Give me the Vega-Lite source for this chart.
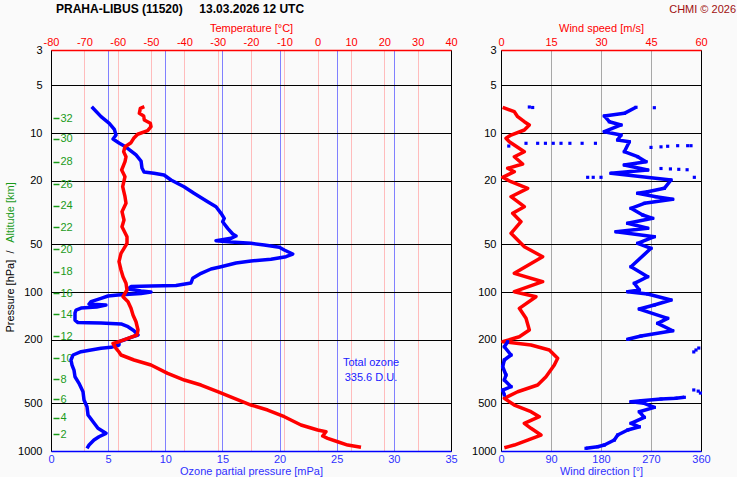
{
"$schema": "https://vega.github.io/schema/vega-lite/v6.json",
"background": "#fafafa",
"padding": {"left": 3, "top": 2, "right": 0, "bottom": 0},
"bounds": "flush",
"spacing": 50,
"config": {
  "font": "Liberation Sans",
  "view": {"stroke": "#000000", "strokeWidth": 1},
  "axis": {"ticks": false, "labelFontSize": 11, "titleFontSize": 11, "titleFontWeight": "normal", "labelFont": "Liberation Sans", "titleFont": "Liberation Sans", "labelOverlap": false, "labelBound": false, "labelFlush": false},
  "title": {"font": "Liberation Sans"}
},
"datasets": {
  "oz": [{"p":6.82,"o":3.56},{"p":7.88,"o":4.38},{"p":8.68,"o":5.10},{"p":9.47,"o":5.54},{"p":10.28,"o":5.69},{"p":10.89,"o":5.43},{"p":11.54,"o":5.95},{"p":12.23,"o":6.56},{"p":13.73,"o":7.44},{"p":14.98,"o":7.88},{"p":16.58,"o":7.96},{"p":17.57,"o":8.14},{"p":17.9,"o":9.01},{"p":18.35,"o":9.89},{"p":19.73,"o":10.5},{"p":21.74,"o":11.64},{"p":23.91,"o":12.51},{"p":27.01,"o":13.71},{"p":29.05,"o":14.44},{"p":31.96,"o":14.88},{"p":34.37,"o":15.16},{"p":36.09,"o":15.02},{"p":39.72,"o":15.46},{"p":43.13,"o":15.9},{"p":44.4,"o":16.19},{"p":45.91,"o":15.75},{"p":47.53,"o":14.44},{"p":48.44,"o":15.75},{"p":49.36,"o":17.5},{"p":50.58,"o":18.66},{"p":52.3,"o":19.98},{"p":54.39,"o":20.41},{"p":57.64,"o":21.15},{"p":59.94,"o":20.56},{"p":62.23,"o":19.25},{"p":63.78,"o":17.5},{"p":65.66,"o":16.19},{"p":69.27,"o":14.88},{"p":71.61,"o":14.0},{"p":76.22,"o":13.13},{"p":81.93,"o":12.4},{"p":87.73,"o":12.25},{"p":90.98,"o":10.94},{"p":91.6,"o":8.75},{"p":92.3,"o":7.0},{"p":95.7,"o":6.74},{"p":98.5,"o":7.88},{"p":99.96,"o":8.75},{"p":102.1,"o":7.88},{"p":104.4,"o":5.86},{"p":105.9,"o":4.99},{"p":109.5,"o":4.38},{"p":115.0,"o":3.5},{"p":118.9,"o":3.33},{"p":120.7,"o":4.81},{"p":124.2,"o":3.99},{"p":126.0,"o":2.63},{"p":129.7,"o":2.19},{"p":135.5,"o":2.1},{"p":150.0,"o":2.1},{"p":155.6,"o":2.36},{"p":156.0,"o":3.24},{"p":156.6,"o":4.38},{"p":157.8,"o":5.25},{"p":158.6,"o":6.13},{"p":165.2,"o":6.74},{"p":175.1,"o":7.26},{"p":186.3,"o":7.61},{"p":192.6,"o":7.0},{"p":200.3,"o":6.39},{"p":205.3,"o":5.95},{"p":215.4,"o":5.95},{"p":222.7,"o":5.25},{"p":225.9,"o":4.38},{"p":231.6,"o":3.5},{"p":237.4,"o":2.63},{"p":248.9,"o":1.93},{"p":267.6,"o":1.75},{"p":287.8,"o":1.84},{"p":309.4,"o":2.01},{"p":341.0,"o":2.1},{"p":375.1,"o":2.45},{"p":423.7,"o":2.8},{"p":477.9,"o":2.89},{"p":526.6,"o":3.15},{"p":593.9,"o":3.24},{"p":654.5,"o":3.68},{"p":720.0,"o":4.11},{"p":774.3,"o":4.81},{"p":813.4,"o":4.2},{"p":853.2,"o":3.76},{"p":917.3,"o":3.33},{"p":962.0,"o":3.15}],
  "temp": [{"p":6.82,"t":-52.0},{"p":6.98,"t":-53.2},{"p":7.51,"t":-53.5},{"p":7.8,"t":-52.2},{"p":8.27,"t":-52.0},{"p":8.68,"t":-50.2},{"p":9.11,"t":-50.0},{"p":9.66,"t":-51.0},{"p":10.17,"t":-54.0},{"p":10.78,"t":-55.2},{"p":11.49,"t":-56.0},{"p":12.17,"t":-57.8},{"p":13.09,"t":-58.2},{"p":14.08,"t":-57.5},{"p":15.13,"t":-57.8},{"p":17.07,"t":-58.8},{"p":18.81,"t":-57.8},{"p":21.74,"t":-58.5},{"p":25.13,"t":-57.8},{"p":27.65,"t":-57.5},{"p":31.22,"t":-58.7},{"p":35.22,"t":-58.1},{"p":38.8,"t":-58.7},{"p":44.85,"t":-57.2},{"p":49.36,"t":-57.2},{"p":57.06,"t":-59.0},{"p":64.43,"t":-59.6},{"p":72.67,"t":-59.0},{"p":80.05,"t":-58.4},{"p":88.1,"t":-57.5},{"p":97.1,"t":-57.2},{"p":106.98,"t":-58.4},{"p":115.0,"t":-56.9},{"p":126.6,"t":-56.0},{"p":139.5,"t":-55.4},{"p":153.7,"t":-54.5},{"p":173.3,"t":-53.9},{"p":186.3,"t":-54.2},{"p":195.5,"t":-56.9},{"p":205.3,"t":-59.6},{"p":210.2,"t":-61.4},{"p":225.9,"t":-60.5},{"p":238.4,"t":-59.6},{"p":248.9,"t":-59.0},{"p":267.6,"t":-55.1},{"p":287.8,"t":-50.0},{"p":324.6,"t":-45.0},{"p":357.6,"t":-40.0},{"p":384.5,"t":-35.0},{"p":423.7,"t":-30.0},{"p":466.3,"t":-25.0},{"p":513.8,"t":-20.0},{"p":552.4,"t":-15.0},{"p":608.5,"t":-10.0},{"p":686.5,"t":-5.0},{"p":738.1,"t":0.0},{"p":756.4,"t":2.5},{"p":805.1,"t":1.5},{"p":832.4,"t":3.0},{"p":874.5,"t":6.0},{"p":917.3,"t":9.0},{"p":948.2,"t":13.0}],
  "ws": [{"p":6.88,"s":0.5},{"p":7.33,"s":4.0},{"p":7.88,"s":5.0},{"p":8.48,"s":7.0},{"p":8.89,"s":8.5},{"p":9.56,"s":7.0},{"p":10.28,"s":3.0},{"p":10.78,"s":1.5},{"p":11.33,"s":2.5},{"p":13.09,"s":7.0},{"p":14.08,"s":4.0},{"p":15.64,"s":6.5},{"p":16.65,"s":2.0},{"p":17.49,"s":4.0},{"p":18.97,"s":0.5},{"p":20.22,"s":3.0},{"p":22.25,"s":8.0},{"p":25.13,"s":3.0},{"p":29.05,"s":7.0},{"p":31.96,"s":3.5},{"p":36.09,"s":6.0},{"p":42.69,"s":3.0},{"p":51.84,"s":7.0},{"p":59.94,"s":12.5},{"p":76.22,"s":4.0},{"p":86.1,"s":12.5},{"p":99.5,"s":4.0},{"p":107.0,"s":10.5},{"p":126.6,"s":5.5},{"p":146.3,"s":7.5},{"p":173.3,"s":8.5},{"p":191.0,"s":5.5},{"p":205.3,"s":0.5},{"p":215.4,"s":9.0},{"p":231.5,"s":14.5},{"p":261.2,"s":17.0},{"p":287.8,"s":16.0},{"p":341.0,"s":13.5},{"p":384.5,"s":11.0},{"p":423.7,"s":5.0},{"p":466.3,"s":1.0},{"p":513.8,"s":4.0},{"p":566.2,"s":9.0},{"p":608.5,"s":11.5},{"p":669.9,"s":7.0},{"p":720.0,"s":9.0},{"p":793.5,"s":12.0},{"p":853.2,"s":8.0},{"p":917.3,"s":4.0},{"p":953.6,"s":1.0}],
  "wd": [{"p":6.88,"d":243,"g":"a"},{"p":7.51,"d":222,"g":"a"},{"p":7.8,"d":186,"g":"a"},{"p":8.48,"d":195,"g":"a"},{"p":8.89,"d":216,"g":"a"},{"p":9.8,"d":186,"g":"a"},{"p":10.28,"d":216,"g":"a"},{"p":11.05,"d":210,"g":"a"},{"p":11.33,"d":231,"g":"a"},{"p":13.09,"d":222,"g":"a"},{"p":14.08,"d":246,"g":"a"},{"p":15.13,"d":261,"g":"a"},{"p":15.87,"d":222,"g":"a"},{"p":17.07,"d":264,"g":"a"},{"p":17.9,"d":198,"g":"a"},{"p":19.73,"d":306,"g":"a"},{"p":22.25,"d":294,"g":"a"},{"p":23.37,"d":264,"g":"a"},{"p":23.91,"d":246,"g":"a"},{"p":25.13,"d":279,"g":"a"},{"p":26.1,"d":309,"g":"a"},{"p":27.65,"d":258,"g":"a"},{"p":29.72,"d":234,"g":"a"},{"p":32.76,"d":255,"g":"a"},{"p":34.37,"d":273,"g":"a"},{"p":36.94,"d":228,"g":"a"},{"p":39.72,"d":264,"g":"a"},{"p":41.73,"d":207,"g":"a"},{"p":44.85,"d":276,"g":"a"},{"p":49.36,"d":246,"g":"a"},{"p":53.06,"d":270,"g":"a"},{"p":69.27,"d":234,"g":"a"},{"p":80.05,"d":264,"g":"a"},{"p":88.1,"d":240,"g":"a"},{"p":97.1,"d":249,"g":"a"},{"p":99.5,"d":228,"g":"a"},{"p":102.9,"d":264,"g":"a"},{"p":112.2,"d":306,"g":"a"},{"p":120.7,"d":276,"g":"a"},{"p":127.9,"d":249,"g":"a"},{"p":146.3,"d":300,"g":"a"},{"p":157.3,"d":282,"g":"a"},{"p":175.1,"d":309,"g":"a"},{"p":189.1,"d":252,"g":"a"},{"p":198.3,"d":228,"g":"a"},
    {"p":205.3,"d":12,"g":"b"},{"p":220.8,"d":6,"g":"b"},{"p":248.9,"d":18,"g":"b"},{"p":267.6,"d":6,"g":"b"},{"p":295.1,"d":3,"g":"b"},{"p":332.6,"d":9,"g":"b"},{"p":357.6,"d":6,"g":"b"},{"p":393.9,"d":18,"g":"b"},{"p":413.4,"d":3,"g":"b"},{"p":444.5,"d":6,"g":"b"},
    {"p":459.5,"d":330,"g":"c"},{"p":465.0,"d":315,"g":"c"},{"p":470.9,"d":288,"g":"c"},{"p":483.0,"d":252,"g":"c"},{"p":489.7,"d":234,"g":"c"},{"p":501.3,"d":258,"g":"c"},{"p":531.3,"d":276,"g":"c"},{"p":566.2,"d":249,"g":"c"},{"p":614.0,"d":258,"g":"c"},{"p":669.9,"d":234,"g":"c"},{"p":703.8,"d":249,"g":"c"},{"p":738.1,"d":228,"g":"c"},{"p":793.5,"d":210,"g":"c"},{"p":853.2,"d":204,"g":"c"},{"p":917.3,"d":186,"g":"c"},{"p":940.0,"d":174,"g":"c"},{"p":962.0,"d":153,"g":"c"},
    {"p":6.85,"d":51,"g":"x1"},{"p":6.9,"d":57,"g":"x2"},{"p":6.92,"d":276,"g":"x3"},{"p":11.59,"d":45,"g":"x4"},{"p":11.59,"d":66,"g":"x5"},{"p":11.59,"d":80,"g":"x6"},{"p":11.59,"d":94,"g":"x7"},{"p":11.59,"d":108,"g":"x8"},{"p":11.59,"d":124,"g":"x9"},{"p":11.59,"d":146,"g":"x10"},{"p":11.59,"d":170,"g":"x11"},{"p":12.06,"d":14,"g":"x12"},{"p":12.3,"d":270,"g":"x13"},{"p":12.2,"d":288,"g":"x14"},{"p":12.1,"d":300,"g":"x15"},{"p":12.0,"d":318,"g":"x16"},{"p":12.0,"d":336,"g":"x17"},{"p":12.0,"d":342,"g":"x18"},{"p":16.7,"d":288,"g":"x19"},{"p":16.8,"d":305,"g":"x20"},{"p":16.9,"d":320,"g":"x21"},{"p":17.0,"d":335,"g":"x22"},{"p":18.97,"d":156,"g":"x23"},{"p":18.97,"d":166,"g":"x24"},{"p":18.97,"d":180,"g":"x25"},{"p":18.97,"d":348,"g":"x26"},{"p":225,"d":356,"g":"x27"},{"p":231.5,"d":351,"g":"x28"},{"p":238,"d":347,"g":"x29"},{"p":413,"d":347,"g":"x30"},{"p":420,"d":355,"g":"x31"},{"p":432,"d":359,"g":"x32"}],
  "ann": [{"o":28.0,"p":281.2,"txt":"Total ozone\n335.6 D.U."}]
},
"hconcat": [
  {
    "width": 400, "height": 401,
    "title": {"text": "PRAHA-LIBUS (11520)\u00a0\u00a0\u00a0\u00a0 13.03.2026 12 UTC", "anchor": "start", "dx": 5, "fontSize": 12, "fontWeight": "bold", "color": "#000000", "offset": 6, "frame": "group"},
    "layer": [
      {
        "data": {"name": "oz"},
        "mark": {"type": "line", "color": "#0000ff", "strokeWidth": 3.5, "strokeJoin": "round"},
        "encoding": {
          "x": {"field": "o", "type": "quantitative", "scale": {"domain": [0, 35], "nice": false, "zero": false},
                "axis": {"orient": "bottom", "title": "Ozone partial pressure [mPa]", "values": [0,5,10,15,20,25,30,35], "format": "d", "labelColor": "#3030ff", "titleColor": "#3030ff", "domainColor": "#0000ff", "domainWidth": 1.5, "grid": true, "gridColor": "#8080ff", "gridOpacity": {"condition": {"test": "datum.value == 0 || datum.value == 35", "value": 0}, "value": 1}, "labelPadding": 2, "titlePadding": 1}},
          "y": {"field": "p", "type": "quantitative", "scale": {"type": "log", "domain": [3, 1000], "reverse": true, "nice": false, "zero": false},
                "axis": {"orient": "left", "values": [3,5,10,20,50,100,200,500,1000], "format": "d", "labelColor": "#000000", "labelPadding": 9, "domain": false, "grid": true, "gridColor": "#000000", "gridOpacity": {"condition": {"test": "datum.value == 3 || datum.value == 1000", "value": 0}, "value": 1}, "title": "Pressure [hPa]\u00a0\u00a0/", "titleColor": "#000000", "titleX": -41, "titleY": 241, "titleAngle": 270, "titleAlign": "center", "titleBaseline": "middle"}},
          "order": {"field": "p", "type": "quantitative"}
        }
      },
      {
        "data": {"name": "temp"},
        "mark": {"type": "line", "color": "#ff0000", "strokeWidth": 3.5, "strokeJoin": "round"},
        "encoding": {
          "x": {"field": "t", "type": "quantitative", "scale": {"domain": [-80, 40], "nice": false, "zero": false},
                "axis": {"orient": "top", "title": "Temperature [°C]", "values": [-80,-70,-60,-50,-40,-30,-20,-10,0,10,20,30,40], "labelExpr": "toString(datum.value)", "labelColor": "#ff0000", "titleColor": "#ff0000", "domainColor": "#ff0000", "domainWidth": 1.5, "grid": true, "gridColor": "#ffbcbc", "gridOpacity": {"condition": {"test": "datum.value == -80 || datum.value == 40", "value": 0}, "value": 1}, "labelPadding": 3, "titlePadding": 3}},
          "y": {"field": "p", "type": "quantitative", "scale": {"type": "log", "domain": [3, 1000], "reverse": true, "nice": false, "zero": false},
                "axis": {"orient": "right", "offset": -398, "values": [785.6,617.6,473,354.1,261.2,189.1,138.1,101.9,74.5,53.84,39.15,28.63,20.91,15.13,10.89,8.07],
                  "labelExpr": "datum.value > 700 ? '2' : datum.value > 540 ? '4' : datum.value > 400 ? '6' : datum.value > 300 ? '8' : datum.value > 220 ? '10' : datum.value > 160 ? '12' : datum.value > 120 ? '14' : datum.value > 90 ? '16' : datum.value > 60 ? '18' : datum.value > 45 ? '20' : datum.value > 33 ? '22' : datum.value > 24 ? '24' : datum.value > 18 ? '26' : datum.value > 13 ? '28' : datum.value > 9.5 ? '30' : '32'",
                  "domain": false, "grid": false, "ticks": true, "tickSize": 6, "tickColor": "#1a9a1a", "tickWidth": 1.5, "labelColor": "#1a9a1a", "labelPadding": 1, "labelAlign": "left",
                  "title": "Altitude [km]", "titleColor": "#1a9a1a", "titleX": -43, "titleY": 162, "titleAngle": 270, "titleAlign": "center", "titleBaseline": "middle"}},
          "order": {"field": "p", "type": "quantitative"}
        }
      },
      {
        "data": {"name": "ann"},
        "mark": {"type": "text", "color": "#2020ff", "fontSize": 11, "align": "center", "baseline": "middle", "lineBreak": "\n", "lineHeight": 15},
        "encoding": {
          "x": {"field": "o", "type": "quantitative", "scale": {"domain": [0, 35], "nice": false, "zero": false}, "axis": null},
          "y": {"field": "p", "type": "quantitative", "scale": {"type": "log", "domain": [3, 1000], "reverse": true, "nice": false, "zero": false}, "axis": null},
          "text": {"field": "txt"}
        }
      }
    ],
    "resolve": {"scale": {"x": "independent"}, "axis": {"x": "independent", "y": "independent"}}
  },
  {
    "width": 200, "height": 401,
    "title": {"text": "CHMI © 2026", "anchor": "end", "dx": 35, "fontSize": 11, "fontWeight": "normal", "color": "#a01010", "offset": 7, "frame": "group"},
    "layer": [
      {
        "data": {"name": "ws"},
        "mark": {"type": "line", "color": "#ff0000", "strokeWidth": 3.5, "strokeJoin": "round"},
        "encoding": {
          "x": {"field": "s", "type": "quantitative", "scale": {"domain": [0, 60], "nice": false, "zero": false},
                "axis": {"orient": "top", "title": "Wind speed [m/s]", "values": [0,15,30,45,60], "format": "d", "labelColor": "#ff0000", "titleColor": "#ff0000", "domainColor": "#ff0000", "domainWidth": 1.5, "grid": false, "labelPadding": 3, "titlePadding": 3}},
          "y": {"field": "p", "type": "quantitative", "scale": {"type": "log", "domain": [3, 1000], "reverse": true, "nice": false, "zero": false},
                "axis": {"orient": "left", "values": [3,5,10,20,50,100,200,500,1000], "format": "d", "labelColor": "#000000", "labelPadding": 5, "domain": false, "grid": true, "gridColor": "#000000", "gridOpacity": {"condition": {"test": "datum.value == 3 || datum.value == 1000", "value": 0}, "value": 1}, "title": null}},
          "order": {"field": "p", "type": "quantitative"}
        }
      },
      {
        "data": {"name": "wd"},
        "mark": {"type": "line", "color": "#0000ff", "strokeWidth": 3.5, "strokeJoin": "round"},
        "encoding": {
          "x": {"field": "d", "type": "quantitative", "scale": {"domain": [0, 360], "nice": false, "zero": false},
                "axis": {"orient": "bottom", "title": "Wind direction [°]", "values": [0,90,180,270,360], "format": "d", "labelColor": "#3030ff", "titleColor": "#3030ff", "domainColor": "#0000ff", "domainWidth": 1.5, "grid": true, "gridColor": "#a8a8a8", "gridOpacity": {"condition": {"test": "datum.value == 0 || datum.value == 360", "value": 0}, "value": 1}, "labelPadding": 2, "titlePadding": 1}},
          "y": {"field": "p", "type": "quantitative", "scale": {"type": "log", "domain": [3, 1000], "reverse": true, "nice": false, "zero": false}, "axis": null},
          "detail": {"field": "g"},
          "order": {"field": "p", "type": "quantitative"}
        }
      },
      {
        "data": {"name": "wd"},
        "mark": {"type": "point", "shape": "square", "filled": true, "size": 10, "color": "#0000ff", "opacity": 1},
        "encoding": {
          "x": {"field": "d", "type": "quantitative", "scale": {"domain": [0, 360], "nice": false, "zero": false}, "axis": null},
          "y": {"field": "p", "type": "quantitative", "scale": {"type": "log", "domain": [3, 1000], "reverse": true, "nice": false, "zero": false}, "axis": null}
        }
      }
    ],
    "resolve": {"scale": {"x": "independent"}, "axis": {"x": "independent", "y": "independent"}}
  }
]
}
